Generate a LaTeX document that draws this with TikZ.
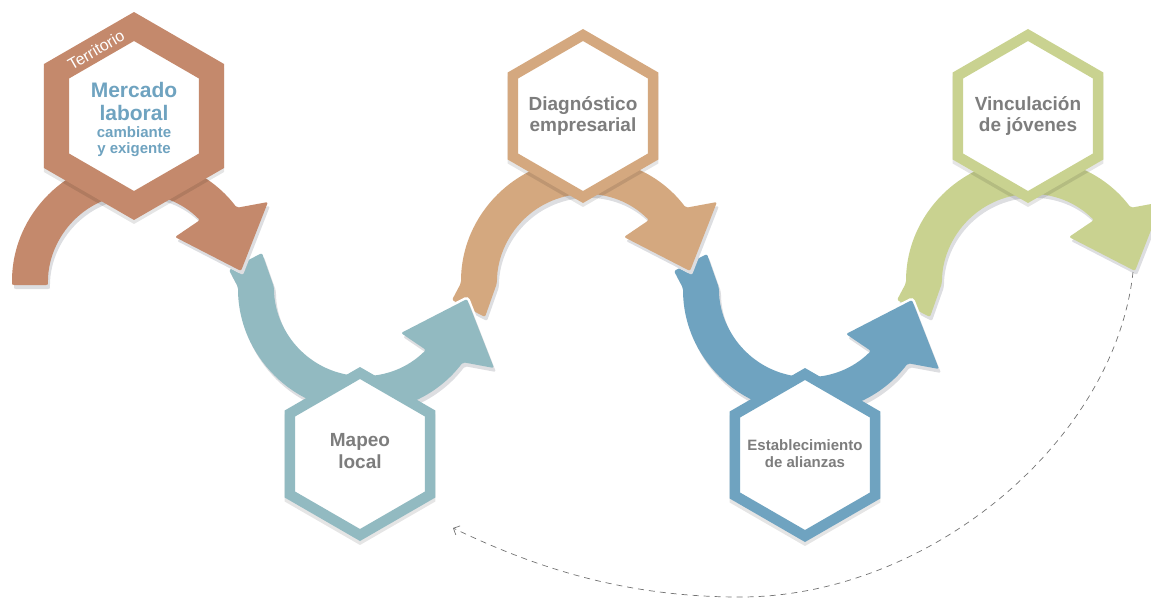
\documentclass[tikz,border=0pt]{standalone}
\usepackage{fontspec}
\setmainfont{Liberation Sans}
\usetikzlibrary{positioning,shapes.geometric,arrows.meta}

\definecolor{terracota}{RGB}{196,137,108}
\definecolor{aguamarina}{RGB}{146,186,193}
\definecolor{arena}{RGB}{212,168,127}
\definecolor{azul}{RGB}{111,163,192}
\definecolor{oliva}{RGB}{201,210,144}
\definecolor{gristexto}{RGB}{125,125,125}
\definecolor{sombra}{RGB}{221,222,225}

\pgfdeclarelayer{background}
\pgfsetlayers{background,main}

% one wave arrow, drawn round the centre of a hexagon (y grows downwards)
\newcommand{\wavepath}[2]{(#1) -- (-122,167) arc[start angle=-180, end angle=-37, radius=125]
  -- (134,86) -- (107,155) -- (41,121) -- (65.9,104.1)
  arc[start angle=-45, end angle=-180, radius=89] -- (#2) -- cycle}
\newcommand{\wavearrow}[5]{%
  \begin{scope}[shift={(#1.center)}, yscale=#2]
    \fill[wavegap] \wavepath{#4}{#5};
  \end{scope}
  \begin{scope}[shift={(#1.center)}, shift={(2,4)}, yscale=#2]
    \fill[sombra, rounded corners=2pt] \wavepath{#4}{#5};
  \end{scope}
  \begin{scope}[shift={(#1.center)}, yscale=#2]
    \fill[#3, rounded corners=2pt] \wavepath{#4}{#5};
  \end{scope}}

\begin{document}
\begin{tikzpicture}[x=1pt, y=-1pt,
    hexbox/.style n args={2}{regular polygon, regular polygon sides=6, shape border rotate=30,
      minimum size=#2, inner sep=0pt, fill=white, line width=#1,
      preaction={draw=black, draw opacity=.1, line width=#1, transform canvas={yshift=-4pt}}},
    hexthin/.style={hexbox={10.4pt}{162pt}},
    hexthick/.style={hexbox={25.1pt}{179pt}},
    hextext/.style={inner sep=0pt, align=center, text=gristexto,
      font=\fontsize{19}{21.5}\selectfont\bfseries},
    wavegap/.style={fill=white, draw=white, line width=5pt, rounded corners=2pt},
    mercadotext/.style={inner sep=0pt, align=center, text=azul},
    retorno/.style={draw=black!55, line width=0.7pt, dash pattern=on 6pt off 5pt,
      -{Straight Barb[length=5pt, width=10pt]}}]
  \useasboundingbox (0,0) rectangle (1151,598);

  \node [hexthick, draw=terracota] (hexmercado) at (134,116) {};
  \node [hexthin, draw=aguamarina] (hexmapeo) at (360,454) {};
  \node [hexthin, draw=arena] (hexdiagnostico) at (583,116) {};
  \node [hexthin, draw=azul] (hexalianzas) at (805,455) {};
  \node [hexthin, draw=oliva] (hexjovenes) at (1028,116) {};

  \begin{pgfonlayer}{background}
    \wavearrow{hexjovenes}{1}{oliva}{-131,184}{-98,201}
    \wavearrow{hexalianzas}{-1}{azul}{-131,184}{-98,201}
    \wavearrow{hexdiagnostico}{1}{arena}{-131,184}{-98,201}
    \wavearrow{hexmapeo}{-1}{aguamarina}{-131,184}{-98,201}
    \wavearrow{hexmercado}{1}{terracota}{-122,169}{-86,169}
  \end{pgfonlayer}

  \node [hextext] (mapeo) at ([yshift=3pt]hexmapeo.center) {Mapeo\\local};
  \node [hextext] (diagnostico) at (hexdiagnostico) {Diagnóstico\\empresarial};
  \node [hextext, font=\fontsize{15}{17}\selectfont\bfseries] (alianzas)
    at ([yshift=1pt]hexalianzas.center) {Establecimiento\\de alianzas};
  \node [hextext] (jovenes) at (hexjovenes) {Vinculación\\de jóvenes};

  \node [rotate=30, text=white, font=\fontsize{16}{18}\selectfont, inner sep=0pt]
    (territorio) at (96,50) {Territorio};
  \node [mercadotext, font=\fontsize{21}{23}\selectfont\bfseries] (mercado) at (134,101)
    {Mercado\\laboral};
  \node [mercadotext, font=\fontsize{15}{16}\selectfont\bfseries, below=6pt of mercado]
    (cambiante) {cambiante\\y exigente};

  \coordinate (loopstart) at (1133,272);
  \coordinate (loopend) at (453,528);
  \draw [retorno] (loopstart) .. controls (1115,440) and (930,597) .. (740,597)
    .. controls (620,597) and (530,565) .. (loopend);
\end{tikzpicture}
\end{document}
